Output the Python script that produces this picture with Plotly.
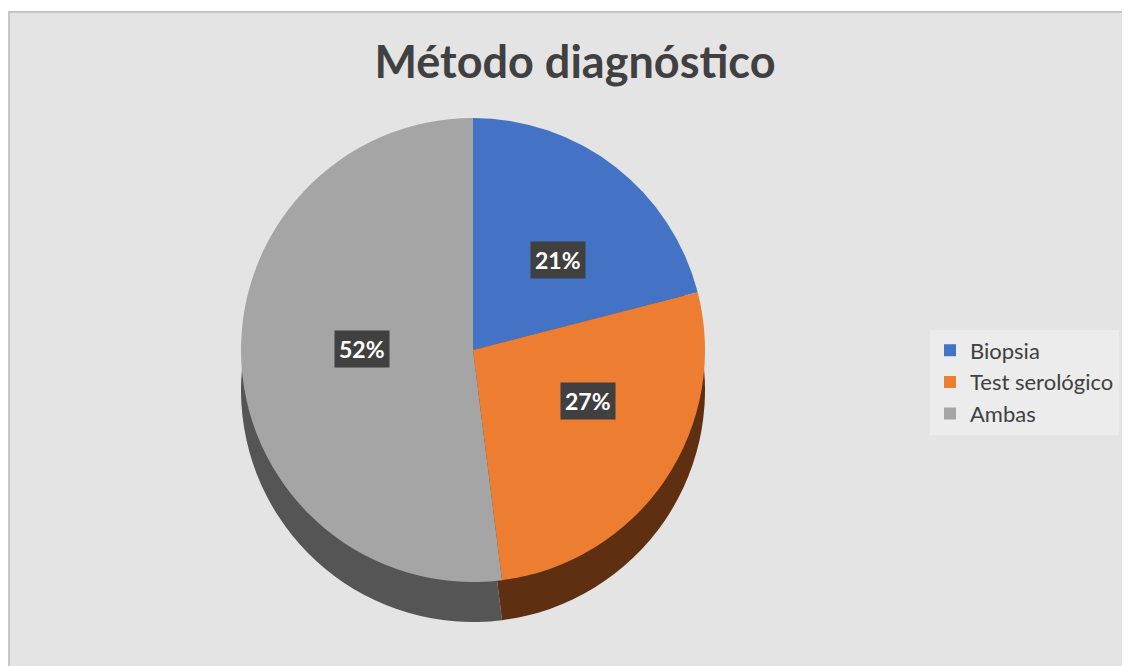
import numpy as np
import plotly.graph_objects as go

# ---- data ----
categories = ["Biopsia", "Test serológico", "Ambas"]
values = [21, 27, 52]
label_texts = ["21%", "27%", "52%"]
top_colors = ["#4472C4", "#ED7D31", "#A5A5A5"]
side_colors = ["#2f5597", "#5e2f11", "#555555"]

W, H = 1130, 666
OFF = 8                # page body margin offset
cx, cy = 473 - OFF, 350 - OFF   # pie centre in figure px
D = 464                # pie diameter in px
depth = 40             # thickness offset in px


def dom(cxp, cyp):
    return dict(x=[(cxp - D / 2) / W, (cxp + D / 2) / W],
                y=[1 - (cyp + D / 2) / H, 1 - (cyp - D / 2) / H])


fig = go.Figure()
# side (thickness) pie
fig.add_trace(go.Pie(
    labels=categories, values=values, sort=False, direction="clockwise",
    rotation=0, domain=dom(cx, cy + depth), textinfo="none",
    marker=dict(colors=side_colors, line=dict(width=0)),
    showlegend=False, hoverinfo="skip"))
# top face
fig.add_trace(go.Pie(
    labels=categories, values=values, sort=False, direction="clockwise",
    rotation=0, domain=dom(cx, cy), textinfo="none",
    marker=dict(colors=top_colors, line=dict(width=0)),
    showlegend=True))

# data labels placed at mid-angle of each slice
tot = float(sum(values))
cum = np.cumsum([0] + values[:-1])
for v, c, t in zip(values, cum, label_texts):
    theta = np.deg2rad((c + v / 2) / tot * 360)
    px = cx + 0.6 * (D / 2) * np.sin(theta)
    py = cy - 0.45 * (D / 2) * np.cos(theta) - 8
    fig.add_annotation(x=px / W, y=1 - py / H, xref="paper", yref="paper",
                       text=f"<b>{t}</b>", showarrow=False,
                       font=dict(family="Lato", size=23, color="white"),
                       bgcolor="#404040", borderpad=4)

fig.add_shape(type="rect", xref="paper", yref="paper",
              x0=(9 - OFF) / W, x1=1.02, y0=-0.02, y1=1 - (12 - OFF) / H,
              fillcolor="#e4e4e4", line=dict(color="#c6c6c6", width=2),
              layer="below")

fig.update_layout(
    width=W, height=H,
    margin=dict(l=0, r=0, t=0, b=0),
    paper_bgcolor="white",
    title=dict(text="<b>Método diagnóstico</b>", x=(575 - OFF) / W, xanchor="center",
               y=1 - (62 - OFF) / H, yanchor="middle",
               font=dict(family="Lato", size=45, color="#404040")),
    legend=dict(x=(930 - OFF) / W, y=1 - (382 - OFF) / H, xanchor="left", yanchor="middle",
                bgcolor="#ececec", font=dict(family="Lato", size=22, color="#404040"),
                itemwidth=30),
    font=dict(family="Lato"),
)

fig.write_html("out.html")
